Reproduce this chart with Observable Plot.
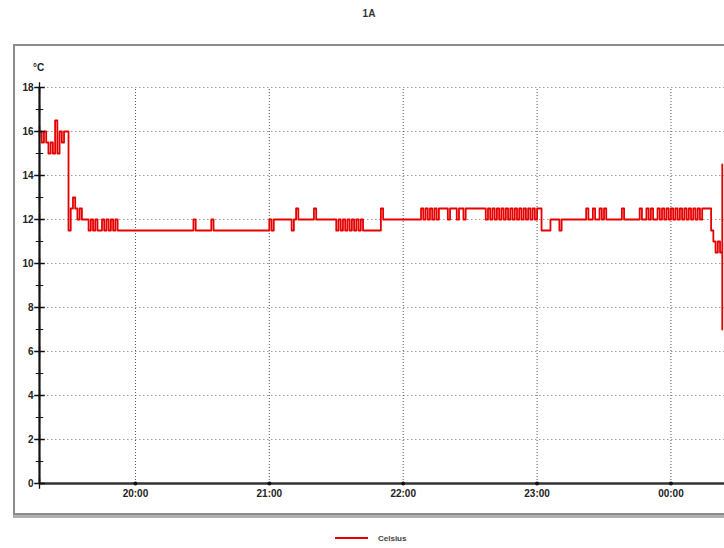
<!DOCTYPE html>
<html>
<head>
<meta charset="utf-8">
<script src="https://cdn.jsdelivr.net/npm/d3@7"></script>
<script src="https://cdn.jsdelivr.net/npm/@observablehq/plot@0.6"></script>
<style>
  html, body { margin: 0; padding: 0; background: #fff; width: 724px; height: 548px; overflow: hidden; position: relative; font-family: "Liberation Sans", Arial, sans-serif; }
  #title { position: absolute; left: 0; width: 738px; top: 8px; text-align: center; font-size: 10px; font-weight: bold; color: #333; }
  #frame { position: absolute; left: 13px; top: 44px; width: 800px; height: 467px; border: 2px solid #8c8c8c; box-shadow: 0 3px 0 #b0b0b0; background: #fff; }
  #chart { position: absolute; left: 15px; top: 46px; }
  #legend { position: absolute; left: 335px; top: 532px; height: 12px; display: flex; align-items: center; font-size: 8px; font-weight: bold; color: #444; }
  #legend .sw { display: inline-block; width: 33px; height: 2px; background: #e60000; margin-right: 10px; }
</style>
</head>
<body>
<div id="title">1A</div>
<div id="frame"></div>
<div id="chart"></div>
<div id="legend"><span class="sw"></span><span>Celsius</span></div>
<script>
// ---- data ----
const seriesName = "Celsius";
const unitLabel = "°C";
const times = [
  "19:17","19:18","19:19","19:20","19:21","19:22","19:23","19:24","19:25","19:26","19:27","19:28",
  "19:30","19:31","19:32","19:33","19:34","19:35","19:36","19:39","19:40","19:41","19:42","19:43",
  "19:45","19:46","19:47","19:48","19:49","19:50","19:51","19:52",
  "20:26","20:27","20:34","20:35",
  "21:00","21:01","21:02","21:10","21:11","21:12","21:13","21:20","21:21",
  "21:30","21:31","21:32","21:33","21:34","21:35","21:36","21:37","21:38","21:39","21:40","21:41","21:42",
  "21:50","21:51",
  "22:08","22:09","22:10","22:11","22:12","22:13","22:14","22:15","22:16","22:17",
  "22:20","22:21","22:24","22:25","22:27","22:28",
  "22:37","22:38","22:39","22:40","22:41","22:42","22:43","22:44","22:45","22:46","22:47","22:48",
  "22:49","22:50","22:51","22:52","22:53","22:54","22:55","22:56","22:57","22:58","22:59","23:00","23:01",
  "23:02","23:06","23:10","23:11",
  "23:22","23:23","23:25","23:26","23:28","23:29","23:30","23:31","23:38","23:39","23:46","23:47",
  "23:49","23:50","23:51","23:52",
  "23:54","23:55","23:56","23:57","23:58","23:59","00:00","00:01","00:02","00:03","00:04","00:05",
  "00:06","00:07","00:08","00:09","00:10","00:11","00:12","00:13","00:14",
  "00:18","00:19","00:20","00:21","00:22","00:23","00:23"
];
const celsius = [
  16,15.5,16,15.5,15,15.5,15,16.5,15,16,15.5,16,
  11.5,12.5,13,12.5,12,12.5,12,11.5,12,11.5,12,11.5,
  12,11.5,12,11.5,12,11.5,12,11.5,
  12,11.5,12,11.5,
  12,11.5,12,11.5,12,12.5,12,12.5,12,
  11.5,12,11.5,12,11.5,12,11.5,12,11.5,12,11.5,12,11.5,
  12.5,12,
  12.5,12,12.5,12,12.5,12,12.5,12,12.5,12.5,
  12,12.5,12,12.5,12,12.5,
  12,12.5,12,12.5,12,12.5,12,12.5,12,12.5,12,12.5,
  12,12.5,12,12.5,12,12.5,12,12.5,12,12.5,12,12.5,12.5,
  11.5,12,11.5,12,
  12.5,12,12.5,12,12.5,12,12.5,12,12.5,12,12.5,12,
  12.5,12,12.5,12,
  12.5,12,12.5,12,12.5,12,12.5,12,12.5,12,12.5,12,
  12.5,12,12.5,12,12.5,12,12.5,12,12.5,
  11.5,11,10.5,11,10.5,14.5,7
];
const xDomain = ["19:17", "00:24"];
const xTickLabels = ["20:00", "21:00", "22:00", "23:00", "00:00"];
const yTicks = [0, 2, 4, 6, 8, 10, 12, 14, 16, 18];
const yMinorTicks = [1, 3, 5, 7, 9, 11, 13, 15, 17];
const yGrid = [2, 4, 6, 8, 10, 12, 14, 16, 18];

// ---- helpers ----
const toDate = (s) => {
  const [h, m] = s.split(":").map(Number);
  return new Date(2000, 0, h < 12 ? 2 : 1, h, m);
};
const data = times.map((t, i) => ({time: toDate(t), value: celsius[i]}));
const x0 = toDate(xDomain[0]);
const x1 = toDate(xDomain[1]);
const xTickDates = xTickLabels.map(toDate);
const labelFor = (d) => xTickLabels[xTickDates.findIndex((t) => +t === +d)];

const chart = Plot.plot({
  width: 709,
  height: 464,
  marginLeft: 24,
  marginRight: 0,
  marginTop: 41,
  marginBottom: 27,
  x: {type: "time", domain: [x0, x1], label: null},
  y: {domain: [0, 18], label: null},
  style: {fontFamily: "'Liberation Sans', Arial, sans-serif", fontSize: "10px", fontWeight: "bold", color: "#222", background: "transparent", overflow: "visible"},
  marks: [
    Plot.ruleY(yGrid, {stroke: "#9a9a9a", strokeDasharray: "1.5,2.5", strokeWidth: 1}),
    Plot.ruleX(xTickDates, {y1: 0, y2: 18, stroke: "#555", strokeDasharray: "1,2", strokeWidth: 1}),
    Plot.line(data, {x: "time", y: "value", curve: "step-after", stroke: "#e60000", strokeWidth: 1.8}),
    Plot.ruleX([x0], {y1: 0, y2: 18, stroke: "#111", strokeWidth: 2.2}),
    Plot.ruleY([0], {stroke: "#333", strokeWidth: 2.6}),
    Plot.dot(yTicks, {x: x0, y: (d) => d, symbol: "plus", r: 3.5, stroke: "#111", strokeWidth: 1.3}),
    Plot.dot(yMinorTicks, {x: x0, y: (d) => d, symbol: "plus", r: 2.5, stroke: "#111", strokeWidth: 1.2}),
    Plot.dot(xTickDates, {x: (d) => d, y: 0, r: 2, fill: "#111"}),
    Plot.axisY({ticks: yTicks, tickSize: 0, tickPadding: 6, tickFormat: (d) => String(d)}),
    Plot.axisX({ticks: xTickDates, tickSize: 0, tickPadding: 6, tickFormat: labelFor}),
    Plot.text([unitLabel], {text: (d) => d, frameAnchor: "top-left", dx: -1, dy: -20, textAnchor: "middle", lineAnchor: "middle", fontSize: 10, fontWeight: "bold", fill: "#222"})
  ]
});
document.getElementById("chart").appendChild(chart);
</script>
</body>
</html>
